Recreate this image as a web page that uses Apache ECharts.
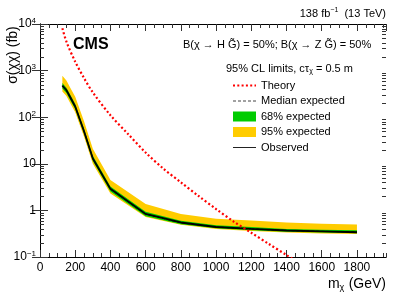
<!DOCTYPE html>
<html>
<head>
<meta charset="utf-8">
<script src="https://cdn.jsdelivr.net/npm/echarts@6/dist/echarts.min.js"></script>
<style>
html,body{margin:0;padding:0;background:#fff;}
#c{width:407px;height:294px;}
</style>
</head>
<body>
<div id="c"></div>
<script>
// ---- data ----
const masses = [127, 150, 175, 200, 250, 300, 400, 600, 800, 1000, 1200, 1400, 1600, 1800];
const observed = [475, 380, 255, 170, 50, 13, 2.9, 0.84, 0.55, 0.44, 0.40, 0.37, 0.355, 0.34];
const expMedian = [470, 375, 250, 168, 50, 13, 2.85, 0.83, 0.54, 0.44, 0.40, 0.37, 0.355, 0.345];
const expPlus1 = [540, 430, 288, 193, 57, 14.8, 3.25, 0.93, 0.60, 0.48, 0.44, 0.40, 0.385, 0.375];
const expMinus1 = [415, 330, 220, 148, 44, 11.5, 2.55, 0.75, 0.505, 0.415, 0.375, 0.35, 0.335, 0.325];
const expPlus2 = [775, 615, 410, 275, 82, 21, 4.5, 1.37, 0.84, 0.66, 0.61, 0.55, 0.52, 0.50];
const expMinus2 = [355, 285, 190, 128, 38, 10, 2.3, 0.72, 0.49, 0.40, 0.36, 0.335, 0.32, 0.31];

const theoryMasses = [127, 150, 200, 250, 300, 400, 500, 600, 700, 800, 900, 1000, 1100, 1200, 1300, 1400, 1450];
const theoryXsec = [8130, 4170, 1550, 690, 340, 110, 43.6, 17.4, 7.9, 4.0, 2.04, 1.07, 0.575, 0.331, 0.19, 0.11, 0.083];

const xMin = 0, xMax = 1965;
const yMin = 0.1, yMax = 10000;
const yMinorTicks = [0.2,0.3,0.4,0.5,0.6,0.7,0.8,0.9, 2,3,4,5,6,7,8,9, 20,30,40,50,60,70,80,90,
                     200,300,400,500,600,700,800,900, 2000,3000,4000,5000,6000,7000,8000,9000];

const FONT = '"Liberation Sans", Arial, Helvetica, sans-serif';

const chart = echarts.init(document.getElementById('c'), null, {renderer: 'canvas'});

function bandRenderer(lo, hi, color) {
  return function (params, api) {
    if (params.dataIndexInside !== 0) return null;
    const pts = [];
    for (let i = 0; i < masses.length; i++) pts.push(api.coord([masses[i], hi[i]]));
    for (let i = masses.length - 1; i >= 0; i--) pts.push(api.coord([masses[i], lo[i]]));
    return {type: 'polygon', shape: {points: pts}, style: {fill: color}};
  };
}

function yLabel(v) {
  const e = Math.round(Math.log10(v));
  if (e === 0) return '{b|1}';
  if (e === 1) return '{b|10}';
  return '{b|10}{s|' + (e < 0 ? '\u2212' + (-e) : e) + '}';
}

const tickColor = '#333';
const hiddenSymbol = {opacity: 0, color: 'rgba(0,0,0,0)', borderColor: 'rgba(0,0,0,0)', borderWidth: 0};
const xAxisBase = {
  type: 'value', min: xMin, max: xMax, gridIndex: 0,
  axisLine: {show: true, lineStyle: {color: '#000', width: 1}},
  splitLine: {show: false}
};

const option = {
  animation: false,
  grid: {left: 40, right: 21, top: 24, bottom: 37, containLabel: false},
  textStyle: {fontFamily: FONT},
  legend: {
    orient: 'vertical', left: 227, top: 75,
    itemWidth: 23, itemHeight: 10, itemGap: 4.5,
    textStyle: {fontFamily: FONT, fontSize: 11, color: '#000'},
    data: [
      {name: 'Theory', itemStyle: hiddenSymbol},
      {name: 'Median expected', itemStyle: hiddenSymbol, lineStyle: {width: 1, color: '#444'}},
      {name: '68% expected', icon: 'rect'},
      {name: '95% expected', icon: 'rect'},
      {name: 'Observed', itemStyle: hiddenSymbol, lineStyle: {width: 1, color: '#222'}}
    ],
    selectedMode: false
  },
  xAxis: [
    Object.assign({}, xAxisBase, {
      position: 'bottom', interval: 200,
      axisTick: {show: true, inside: true, length: 7, lineStyle: {color: tickColor}},
      axisLabel: {show: true, margin: 5, fontSize: 12, color: '#000', fontFamily: FONT, showMaxLabel: false,
                  formatter: v => (v % 200 === 0 ? String(v) : '')},
      name: '{m|m}{sub|\u03c7} {m|(GeV)}', nameLocation: 'end', nameGap: 0,
      nameTextStyle: {
        align: 'right', verticalAlign: 'top', padding: [19, 0, 0, 0],
        rich: {
          m: {fontSize: 14, fontFamily: FONT, color: '#000', lineHeight: 16},
          sub: {fontSize: 9, fontFamily: FONT, color: '#000', verticalAlign: 'bottom', lineHeight: 10, padding: [0, 1, 0, 0]}
        }
      }
    }),
    Object.assign({}, xAxisBase, {
      position: 'bottom', interval: 50,
      axisTick: {show: true, inside: true, length: 4, lineStyle: {color: tickColor}},
      axisLabel: {show: false}
    }),
    Object.assign({}, xAxisBase, {
      position: 'top', interval: 200,
      axisTick: {show: true, inside: true, length: 7, lineStyle: {color: tickColor}},
      axisLabel: {show: false}
    }),
    Object.assign({}, xAxisBase, {
      position: 'top', interval: 50,
      axisTick: {show: true, inside: true, length: 4, lineStyle: {color: tickColor}},
      axisLabel: {show: false}
    })
  ],
  yAxis: [
    {
      type: 'log', min: yMin, max: yMax, logBase: 10, position: 'left',
      axisLine: {show: true, lineStyle: {color: '#000', width: 1}},
      axisTick: {show: true, inside: true, length: 8, lineStyle: {color: tickColor}},
      splitLine: {show: false},
      axisLabel: {
        show: true, margin: 4, formatter: yLabel,
        rich: {
          b: {fontSize: 12, fontFamily: FONT, color: '#000', lineHeight: 15},
          s: {fontSize: 8, fontFamily: FONT, color: '#000', verticalAlign: 'top', lineHeight: 9}
        }
      }
    },
    {
      type: 'log', min: yMin, max: yMax, logBase: 10, position: 'right',
      axisLine: {show: true, lineStyle: {color: '#000', width: 1}},
      axisTick: {show: true, inside: true, length: 8, lineStyle: {color: tickColor}},
      splitLine: {show: false},
      axisLabel: {show: false}
    }
  ],
  graphic: [
    {type: 'text', right: 21, top: 7,
     style: {text: '{n|138 fb}{s|\u22121}{n|  (13 TeV)}', rich: {
       n: {fontSize: 11, fontFamily: FONT, fill: '#000', lineHeight: 13},
       s: {fontSize: 7, fontFamily: FONT, fill: '#000', verticalAlign: 'top', lineHeight: 7}
     }}},
    {type: 'text', left: 73, top: 37,
     style: {text: 'CMS', font: 'bold 16px ' + FONT, fill: '#000'}},
    {type: 'text', left: 183, top: 39,
     style: {text: 'B(\u03c7 \u2192 H G\u0303) = 50%; B(\u03c7 \u2192 Z G\u0303) = 50%', font: '11px ' + FONT, fill: '#000'}},
    {type: 'text', left: 226, top: 63,
     style: {text: '{n|95% CL limits, c\u03c4}{sub|\u03c7}{n| = 0.5 m}', rich: {
       n: {fontSize: 11, fontFamily: FONT, fill: '#000', lineHeight: 13},
       sub: {fontSize: 7, fontFamily: FONT, fill: '#000', verticalAlign: 'bottom', lineHeight: 8}
     }}},
    {type: 'text', x: 13, y: 55, rotation: Math.PI / 2,
     style: {text: '\u03c3(\u03c7\u03c7) (fb)', font: '14px ' + FONT, fill: '#000', align: 'center', verticalAlign: 'middle'}}
  ],
  series: [
    {
      name: '95% expected', type: 'custom', xAxisIndex: 0, yAxisIndex: 0,
      renderItem: bandRenderer(expMinus2, expPlus2, '#ffcc00'),
      data: masses.map((m, i) => [m, expMinus2[i], expPlus2[i]]),
      encode: {x: 0, y: [1, 2]}, itemStyle: {color: '#ffcc00'}, z: 1, silent: true
    },
    {
      name: '68% expected', type: 'custom', xAxisIndex: 0, yAxisIndex: 0,
      renderItem: bandRenderer(expMinus1, expPlus1, '#00cc00'),
      data: masses.map((m, i) => [m, expMinus1[i], expPlus1[i]]),
      encode: {x: 0, y: [1, 2]}, itemStyle: {color: '#00cc00'}, z: 2, silent: true
    },
    {
      name: 'Median expected', type: 'line', xAxisIndex: 0, yAxisIndex: 0,
      data: masses.map((m, i) => [m, expMedian[i]]),
      symbol: 'none', lineStyle: {color: '#000', width: 1, type: [3, 2]},
      itemStyle: {color: '#000'}, z: 3, silent: true
    },
    {
      name: 'Observed', type: 'line', xAxisIndex: 0, yAxisIndex: 0,
      data: masses.map((m, i) => [m, observed[i]]),
      symbol: 'none', lineStyle: {color: '#000', width: 1.8},
      itemStyle: {color: '#000'}, z: 4, silent: true
    },
    {
      name: 'Theory', type: 'line', xAxisIndex: 0, yAxisIndex: 0,
      data: theoryMasses.map((m, i) => [m, theoryXsec[i]]),
      symbol: 'none', smooth: 0.3, clip: true,
      lineStyle: {color: '#ff0000', width: 2.2, type: [2, 2.3], cap: 'butt'},
      itemStyle: {color: '#ff0000'}, z: 5, silent: true
    },
    {
      name: 'minorTicks', type: 'custom', xAxisIndex: 0, yAxisIndex: 0,
      data: yMinorTicks.map(v => [xMin, v]),
      encode: {x: 0, y: 1}, silent: true, z: 6,
      renderItem: function (params, api) {
        const v = api.value(1);
        const l = api.coord([xMin, v]);
        const r = api.coord([xMax, v]);
        const y = Math.round(l[1]) + 0.5;
        return {type: 'group', children: [
          {type: 'line', shape: {x1: l[0], y1: y, x2: l[0] + 4, y2: y}, style: {stroke: tickColor, lineWidth: 1}},
          {type: 'line', shape: {x1: r[0], y1: y, x2: r[0] - 4, y2: y}, style: {stroke: tickColor, lineWidth: 1}}
        ]};
      }
    }
  ]
};
chart.setOption(option);
</script>
</body>
</html>
